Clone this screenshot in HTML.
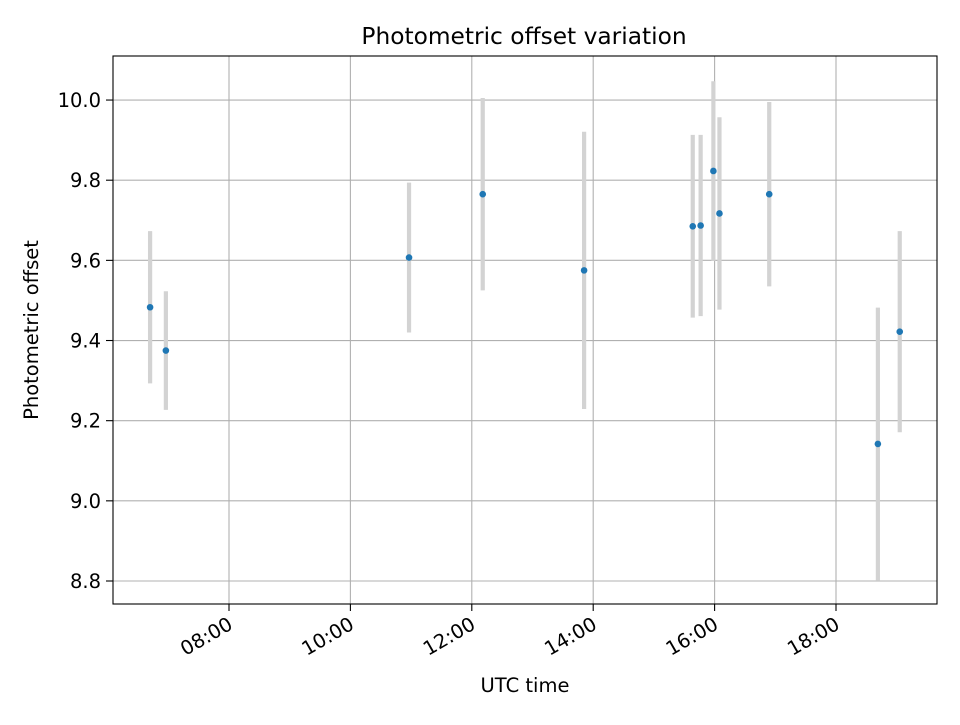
<!DOCTYPE html>
<html><head><meta charset="utf-8"><style>
body{margin:0;background:#fff;}
svg text{font-family:"DejaVu Sans","Liberation Sans",sans-serif;fill:#000;}
</style></head><body>
<svg id="chart" width="960" height="720" xmlns="http://www.w3.org/2000/svg">
<rect width="960" height="720" fill="#fff"/>
<g id="grid"></g><g id="bars"></g><g id="pts"></g><g id="axes"></g>
<text x="524" y="44" style="font-size:23.3px" text-anchor="middle">Photometric offset variation</text>
<text x="525" y="692" style="font-size:19.5px" text-anchor="middle">UTC time</text>
<text transform="translate(38,330) rotate(-90)" style="font-size:19.5px" text-anchor="middle">Photometric offset</text>
</svg>
<script>
const times=[6.70,6.96,10.966,12.18,13.85,15.64,15.77,15.98,16.08,16.90,18.69,19.05];
const values=[9.483,9.375,9.607,9.765,9.575,9.685,9.687,9.823,9.717,9.765,9.142,9.422];
const errors=[0.19,0.148,0.187,0.24,0.346,0.228,0.226,0.224,0.24,0.23,0.34,0.251];
const yTicks=[8.8,9.0,9.2,9.4,9.6,9.8,10.0];
const xTicks=[8,10,12,14,16,18];
const xTickLabels=["08:00","10:00","12:00","14:00","16:00","18:00"];
const L=113,R=937,T=56,B=604;
const X=h=>229+(h-8)*60.7;
const Y=v=>581-(v-8.8)*400.8;
const NS="http://www.w3.org/2000/svg";
function mk(tag,attrs,parent,text){const e=document.createElementNS(NS,tag);for(const k in attrs)e.setAttribute(k,attrs[k]);if(text!==undefined)e.textContent=text;document.getElementById(parent).appendChild(e);return e;}
yTicks.forEach(v=>{
 const g=mk('line',{x1:L,x2:R,y1:Y(v),y2:Y(v),stroke:'#b0b0b0','stroke-width':1.1},'grid');
 
 
 mk('line',{x1:L-7,x2:L,y1:Y(v),y2:Y(v),stroke:'#000','stroke-width':1.1},'axes');
 const t=mk('text',{x:L-12,y:Y(v)+7,style:'font-size:19.5px','text-anchor':'end'},'axes',v.toFixed(1));
 
 
});
xTicks.forEach((h,i)=>{
 const g=mk('line',{x1:X(h),x2:X(h),y1:T,y2:B,stroke:'#b0b0b0','stroke-width':1.1},'grid');
 
 
 mk('line',{x1:X(h),x2:X(h),y1:B,y2:B+7,stroke:'#000','stroke-width':1.1},'axes');
 const t=mk('text',{x:X(h)+5,y:B+24,style:'font-size:19.5px','text-anchor':'end',transform:`rotate(-30 ${X(h)+5} ${B+24})`},'axes',xTickLabels[i]);
 
 
});
const frame=mk('rect',{x:L,y:T,width:R-L,height:B-T,fill:'none',stroke:'#000','stroke-width':1.1},'axes');


times.forEach((h,i)=>{
 const b=mk('line',{x1:X(h),x2:X(h),y1:Y(values[i]-errors[i]),y2:Y(values[i]+errors[i]),stroke:'#d3d3d3','stroke-width':4.2},'bars');
 
 
 const p=mk('circle',{cx:X(h),cy:Y(values[i]),r:3.3,fill:'#1f77b4'},'pts');
 
 
});
</script>
</body></html>
